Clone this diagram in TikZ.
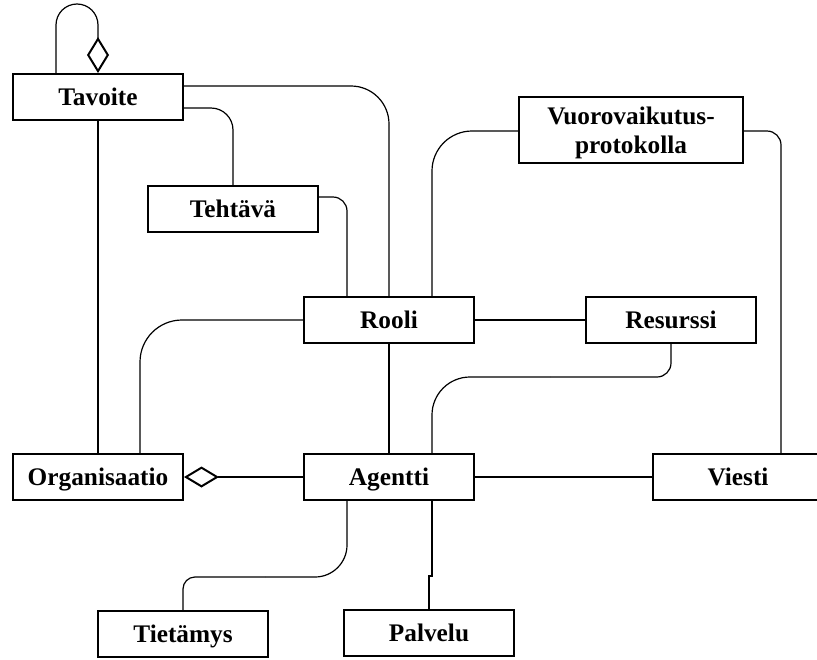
\documentclass[tikz,border=0pt]{standalone}
\usepackage{fontspec}
\setmainfont{Liberation Serif}
\usetikzlibrary{arrows.meta}
\begin{document}
\begin{tikzpicture}[x=1pt,y=-1pt,
  box/.style={draw, line width=2pt, minimum width=170pt, minimum height=46pt,
    inner sep=0pt, font=\fontsize{25.3}{29}\selectfont\bfseries},
  lbl/.style={text height=17.5pt, text depth=0pt},
  link/.style={line width=1.2pt},
]
\path[use as bounding box] (0,0) rectangle (817,659);
\clip (0,0) rectangle (817,659);

% classes
\node[box,lbl] (tav) at (98,97) {Tavoite};
\node[box,lbl] (teh) at (233,209) {Tehtävä};
\node[box,lbl] (roo) at (389,320) {Rooli};
\node[box,lbl] (res) at (671,320) {Resurssi};
\node[box, minimum width=224pt, minimum height=66pt, align=center, text depth=0pt]
  (vuo) at (631,130) {Vuorovaikutus-\\protokolla};
\node[box,lbl] (org) at (98,477) {Organisaatio};
\node[box,lbl] (age) at (389,477) {Agentti};
\node[box,lbl] (vie) at (738,477) {Viesti};
\node[box,lbl] (tie) at (183,634) {Tietämys};
\node[box,lbl] (pal) at (429,633) {Palvelu};

% junction points between differently rounded bends
\coordinate (rj) at (550,377);
\coordinate (tj) at (265,577);

% associations
\draw[link, {Diamond[open,length=36pt,width=22pt,line width=2pt]}-, rounded corners=21]
  (tav.north) -- ++(0,-69) -| ([xshift=-42pt]tav.north);
\draw[link, rounded corners=38] ([yshift=11pt]tav.east) -| (roo.north);
\draw[link, rounded corners=22] ([yshift=-11pt]tav.east) -| (teh.north);
\draw[link] (tav.south) -- (org.north);
\draw[link, rounded corners=14] ([yshift=12pt]teh.east) -| ([xshift=-42pt]roo.north);
\draw[link, rounded corners=40] ([yshift=-1pt]vuo.west) -| ([xshift=43pt]roo.north);
\draw[link, rounded corners=14] ([yshift=-1pt]vuo.east) -| ([xshift=43pt]vie.north);
\draw[link, rounded corners=42] (roo.west) -| ([xshift=42pt]org.north);
\draw[link] (roo.east) -- (res.west);
\draw[link] (roo.south) -- (age.north);
\draw[link, rounded corners=14] (res.south) |- (rj);
\draw[link, rounded corners=38] (rj) -| ([xshift=43pt]age.north);
\draw[link, {Diamond[open,length=35pt,width=21pt,line width=2pt]}-] (org.east) -- (age.west);
\draw[link] (age.east) -- (vie.west);
\draw[link, rounded corners=32] ([xshift=-42pt]age.south) |- (tj);
\draw[link, rounded corners=12] (tj) -| (tie.north);
\draw[link] ([xshift=43pt]age.south) -- ([xshift=43pt]age.south |- 0,576)
  -- ([yshift=33pt]pal.north) -- (pal.north);
\end{tikzpicture}
\end{document}
